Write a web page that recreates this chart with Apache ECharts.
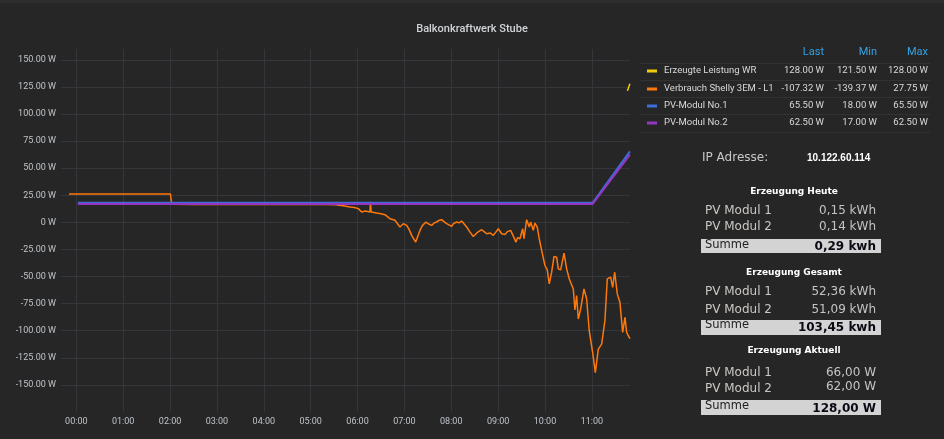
<!DOCTYPE html>
<html><head><meta charset="utf-8">
<script src="https://cdn.jsdelivr.net/npm/echarts@6/dist/echarts.min.js"></script>
<style>html,body{margin:0;padding:0;background:#262626;}#c{width:944px;height:439px;}</style>
</head><body><div id="c"></div>
<script>
// ---- data ----
const chartTitle = 'Balkonkraftwerk Stube';
const seriesNames = ['Erzeugte Leistung WR', 'Verbrauch Shelly 3EM - L1', 'PV-Modul No.1', 'PV-Modul No.2'];
const seriesColors = ['#f2cc0c', '#ff780a', '#3a6fd8', '#9436c2'];
const lastVals = [128.00, -107.32, 65.50, 62.50];
const minVals = [121.50, -139.37, 18.00, 17.00];
const maxVals = [128.00, 27.75, 65.50, 62.50];
const tableHeaders = ['Last', 'Min', 'Max'];

// times in minutes after midnight
const wrTimes = [705.5, 708.7];
const wrValues = [121.5, 128.0];
const pv1Times = [2, 661, 708.7];
const pv1Values = [18.0, 18.0, 65.5];
const pv2Times = [2, 661, 708.7];
const pv2Values = [17.0, 17.0, 62.5];

const orangeTimes = [
  -9.3, -7.2, -6.8, -6.4, 19.3, 19.7, 20.1, 29.0, 29.4, 29.8, 35.4, 35.8, 36.2,
  41.8, 42.2, 42.6, 51.3, 51.7, 52.1, 70.5, 70.9, 71.3, 74.7, 75.1, 75.5,
  87.5, 87.9, 88.3, 90.5, 90.9, 91.3, 98.2, 98.6, 99.0, 102.6, 103.0, 103.4,
  111.0, 111.4, 111.8, 120.5, 121.5, 122.5, 150, 200, 240, 279.5, 280, 280.5,
  304.5, 305, 305.5, 320, 331.8, 332.4, 333.3, 341.8, 350.3, 356, 361.0, 365.3,
  370, 375.9, 376.6, 377.4, 384.5, 390, 395.1, 401.5, 407.9, 414.3, 418.6, 422.9,
  426, 429.3, 434.4, 439.9, 443, 447.6, 451, 454.9, 458, 461.3, 464, 467.7, 471,
  474.1, 480.5, 483, 486.9, 490, 493.3, 499.7, 504, 508.2, 513, 518.9, 522, 525.3,
  530, 533.8, 537, 540.2, 544.5, 548.7, 552, 556.0, 559, 562.8, 565, 567.9, 571.4,
  573.1, 576.5, 579.9, 581.6, 585.0, 587.1, 590.1, 592.6, 595.7, 599.9, 602.9,
  605.4, 608.5, 611.5, 614.9, 617.0, 620.0, 624.3, 627.7, 631.1, 636.2, 638.3,
  640.5, 642.6, 645.6, 649.9, 653.3, 656.6, 661.0, 664.4, 668.2, 672.5, 676.7,
  679.7, 684.0, 686.6, 689.2, 692.5, 695.9, 699.4, 702.4, 704.5, 706.6, 708.7
];
const orangeValues = [
  26.2, 26.2, 27.75, 26.2, 26.2, 27.75, 26.2, 26.2, 27.75, 26.2, 26.2, 27.75, 26.2,
  26.2, 27.75, 26.2, 26.2, 27.75, 26.2, 26.2, 27.75, 26.2, 26.2, 27.75, 26.2,
  26.2, 27.75, 26.2, 26.2, 27.75, 26.2, 26.2, 27.75, 26.2, 26.2, 27.75, 26.2,
  26.2, 27.75, 26.2, 26.2, 20.0, 16.8, 16.6, 16.7, 16.5, 16.5, 15.3, 16.5,
  16.6, 15.5, 16.7, 16.4, 16.2, 18.8, 16.0, 15.4, 14.2, 13.8, 12.7, 9.6,
  10.4, 9.6, 19.0, 9.6, 8.6, 8.0, 7.1, 3.4, 1.9, -4.3, -1.2, -2.8,
  -6.5, -12.0, -18.2, -7.4, -3.0, 0.3, -1.5, -2.8, -0.5, 0.3, 1.8, 2.5, 0.5,
  -1.2, -3.7, -1.0, 0.3, -0.5, 1.2, -4.3, -9.0, -13.0, -9.5, -6.8, -8.5, -10.5,
  -9.8, -12.0, -9.0, -5.9, -10.5, -11.1, -8.5, -7.4, -12.0, -18.2, -14.0, -15.1, -5.9,
  -15.1, 2.5, -4.3, 0.3, -7.4, -0.6, -4.3, -15.1, -25.9, -39.8, -43.8,
  -56.8, -46.0, -31.5, -32.1, -42.9, -43.8, -28.4, -42.9, -52.2, -61.4, -80.9,
  -67.6, -89.2, -80.0, -61.4, -70.7, -100.0, -120.1, -138.6, -117.0, -112.3, -90.7,
  -52.2, -50.6, -59.9, -46.0, -66.0, -73.8, -101.5, -87.6, -101.5, -104.6, -107.3
];

const panelIP = ['IP Adresse:', '10.122.60.114'];
const panelSections = ['Erzeugung Heute', 'Erzeugung Gesamt', 'Erzeugung Aktuell'];
const panelRowLabels = ['PV Modul 1', 'PV Modul 2', 'Summe'];
const heuteVals = [0.15, 0.14, 0.29];
const gesamtVals = [52.36, 51.09, 103.45];
const aktuellVals = [66.00, 62.00, 128.00];
const panelUnits = [['kWh', 'kWh', 'kwh'], ['kWh', 'kWh', 'kwh'], ['W', 'W', 'W']];

// ---- helpers ----
const DAY0 = new Date(2024, 0, 2, 0, 0, 0).getTime();
const toT = m => DAY0 + m * 60000;
const pair = (ts, vs) => ts.map((t, i) => [toT(t), vs[i]]);
const pad = n => (n < 10 ? '0' : '') + n;
const fmtW = v => v.toFixed(2) + ' W';
const fmtDE = v => v.toFixed(2).replace('.', ',');

const chart = echarts.init(document.getElementById('c'));

const AX_FONT = 'Roboto, "Noto Sans", sans-serif';
const PANEL_FONT = '"DejaVu Sans", Verdana, sans-serif';
const graphics = [];
graphics.push({type: 'rect', z: 100, shape: {x: 0, y: 0, width: 944, height: 3}, style: {fill: '#2d2d2d'}, silent: true});

// legend table
const colRight = [824, 877, 928];
tableHeaders.forEach((h, i) => graphics.push({type: 'text', z: 100, style: {
  text: h, x: colRight[i], y: 52, textAlign: 'right', textVerticalAlign: 'middle',
  fill: '#33a2e5', fontSize: 11, fontFamily: AX_FONT}}));
const rowY = [71, 89, 106, 123];
[63, 80, 97, 114, 132].forEach(y => graphics.push({type: 'line', z: 100,
  shape: {x1: 640, y1: y + 0.5, x2: 930, y2: y + 0.5}, style: {stroke: '#323232', lineWidth: 1}}));
seriesNames.forEach((n, i) => {
  const y = rowY[i];
  graphics.push({type: 'rect', z: 100, shape: {x: 647, y: y - 1.5, width: 10, height: 3}, style: {fill: seriesColors[i]}});
  graphics.push({type: 'text', z: 100, style: {text: n, x: 664, y: y, textVerticalAlign: 'middle',
    fill: '#d8d9da', fontSize: 9.5, fontFamily: AX_FONT}});
  [lastVals[i], minVals[i], maxVals[i]].forEach((v, j) => graphics.push({type: 'text', z: 100, style: {
    text: fmtW(v), x: colRight[j], y: y, textAlign: 'right', textVerticalAlign: 'middle',
    fill: '#d8d9da', fontSize: 9.5, fontFamily: AX_FONT}}));
});

// right info panel
graphics.push({type: 'text', z: 100, style: {text: panelIP[0], x: 702, y: 158, textVerticalAlign: 'middle',
  fill: '#c8c8c8', fontSize: 12, fontFamily: PANEL_FONT}});
graphics.push({type: 'text', z: 100, style: {text: panelIP[1], x: 807, y: 158, textVerticalAlign: 'middle',
  fill: '#ffffff', fontSize: 10, fontWeight: 'bold', fontFamily: '"Liberation Sans", Arial, sans-serif'}});

const sectionLayout = [
  {title: 192, rows: [[211, 211], [227, 227]], box: [239, 253], sum: [245, 246.5]},
  {title: 273, rows: [[292, 292], [310, 310]], box: [320, 335], sum: [325.5, 328]},
  {title: 351, rows: [[373, 373], [389, 386.5]], box: [400, 415], sum: [406, 409]}
];
const sectionVals = [heuteVals, gesamtVals, aktuellVals];
panelSections.forEach((s, k) => {
  const L = sectionLayout[k];
  const vals = sectionVals[k];
  graphics.push({type: 'text', z: 100, style: {text: s, x: 794, y: L.title, textAlign: 'center', textVerticalAlign: 'middle',
    fill: '#ffffff', fontSize: 9, fontWeight: 'bold', fontFamily: PANEL_FONT}});
  for (let r = 0; r < 2; r++) {
    graphics.push({type: 'text', z: 100, style: {text: panelRowLabels[r], x: 705, y: L.rows[r][0], textVerticalAlign: 'middle',
      fill: '#cbc8c4', fontSize: 12, fontFamily: PANEL_FONT}});
    graphics.push({type: 'text', z: 100, style: {text: fmtDE(vals[r]) + ' ' + panelUnits[k][r], x: 876, y: L.rows[r][1],
      textAlign: 'right', textVerticalAlign: 'middle', fill: '#c4c4c4', fontSize: 12, fontFamily: PANEL_FONT}});
  }
  graphics.push({type: 'rect', z: 100, shape: {x: 701, y: L.box[0], width: 180, height: L.box[1] - L.box[0]}, style: {fill: '#d3d3d3'}});
  graphics.push({type: 'text', z: 101, style: {text: panelRowLabels[2], x: 705, y: L.sum[0], textVerticalAlign: 'middle',
    fill: '#222222', fontSize: 11.5, fontFamily: PANEL_FONT}});
  graphics.push({type: 'text', z: 101, style: {text: fmtDE(vals[2]) + ' ' + panelUnits[k][2], x: 876, y: L.sum[1],
    textAlign: 'right', textVerticalAlign: 'middle', fill: '#0a0a14', fontSize: 12, fontWeight: 'bold', fontFamily: PANEL_FONT}});
});

const option = {
  backgroundColor: '#262626',
  animation: false,
  title: {text: chartTitle, left: 'center', top: 19,
    textStyle: {color: '#d0d4d9', fontSize: 11, fontWeight: 500, fontFamily: AX_FONT}},
  grid: {left: 61, right: 314, top: 49, bottom: 27},
  xAxis: {
    type: 'time', min: toT(-19.6), max: toT(708.8),
    minInterval: 3600000, maxInterval: 3600000, splitNumber: 12,
    axisLine: {show: false}, axisTick: {show: false},
    axisLabel: {color: '#bfc4ca', fontSize: 9, fontFamily: AX_FONT, margin: 5,
      showMinLabel: false, showMaxLabel: false,
      formatter: v => { const d = new Date(v); return d.getMinutes() === 0 ? pad(d.getHours()) + ':00' : ''; }},
    splitLine: {show: true, showMinLine: false, showMaxLine: false, lineStyle: {color: '#33363b', width: 1}}
  },
  yAxis: {
    type: 'value', min: -175, max: 160, interval: 25,
    axisLine: {show: false}, axisTick: {show: false},
    axisLabel: {color: '#bfc4ca', fontSize: 9, fontFamily: AX_FONT, margin: 5,
      formatter: v => (v < -150 || v > 150) ? '' : (v === 0 ? '0 W' : v.toFixed(2) + ' W')},
    splitLine: {show: true, showMinLine: false, showMaxLine: false, lineStyle: {color: '#33363b', width: 1}}
  },
  series: [
    {name: seriesNames[0], type: 'line', data: pair(wrTimes, wrValues), showSymbol: false,
      lineStyle: {color: seriesColors[0], width: 1.5}, itemStyle: {color: seriesColors[0]}},
    {name: seriesNames[1], type: 'line', data: pair(orangeTimes, orangeValues), showSymbol: false,
      lineStyle: {color: seriesColors[1], width: 1.5}, itemStyle: {color: seriesColors[1]}},
    {name: seriesNames[2], type: 'line', data: pair(pv1Times, pv1Values), showSymbol: false,
      lineStyle: {color: seriesColors[2], width: 2}, itemStyle: {color: seriesColors[2]}},
    {name: seriesNames[3], type: 'line', data: pair(pv2Times, pv2Values), showSymbol: false,
      lineStyle: {color: seriesColors[3], width: 2}, itemStyle: {color: seriesColors[3]}}
  ],
  graphic: {elements: graphics}
};
chart.setOption(option);
</script></body></html>
